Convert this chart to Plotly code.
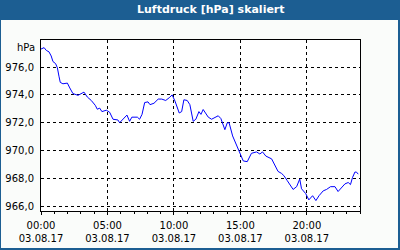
import plotly.graph_objects as go

# ---- data ----
times = ["00:00","00:14","00:24","00:36","00:46","00:54","01:06","01:14","01:21","01:27",
         "01:39","01:59","02:10","02:24","02:47","02:59","03:14","03:29","03:47","04:05",
         "04:14","04:25","04:35","04:55","05:10","05:25","05:47","05:55","06:10","06:28",
         "06:40","06:50","07:15","07:25","07:36","07:48","08:03","08:12","08:30","08:49",
         "09:05","09:23","09:39","09:52","10:05","10:24","10:35","10:45","11:00","11:12",
         "11:27","11:39","11:53","12:02","12:12","12:35","12:50","13:05","13:20","13:32",
         "13:50","14:01","14:09","14:25","14:43","14:58","15:13","15:31","15:50","16:13",
         "16:28","16:40","16:55","17:21","17:35","17:50","18:06","18:16","18:31","18:46",
         "18:58","19:14","19:28","19:36","19:46","19:55","20:09","20:26","20:41","20:55",
         "21:14","21:29","21:47","22:07","22:21","22:37","22:52","23:07","23:17","23:26",
         "23:37","23:44","23:52"]
pressure = [977.3,977.4,977.2,977.1,976.8,976.4,976.25,975.95,975.35,974.9,
            974.8,974.85,974.5,974.1,973.97,974.05,974.2,973.85,973.6,973.25,
            972.97,973.05,972.8,972.9,972.75,972.25,972.2,972.0,972.25,972.55,
            972.1,972.4,972.4,972.25,972.6,973.45,973.5,973.3,973.4,973.7,
            973.7,973.6,973.8,974.0,973.55,972.7,972.8,973.65,973.6,973.3,
            972.1,972.25,972.8,972.6,972.95,972.4,972.25,972.35,972.5,972.3,
            971.5,972.0,972.0,971.05,970.4,969.85,969.25,969.2,969.8,969.9,
            969.75,969.9,969.6,969.4,969.0,968.5,968.35,968.2,967.85,967.5,
            967.2,967.4,967.95,967.25,967.1,966.9,966.45,966.75,966.4,966.75,
            967.1,967.2,967.4,967.4,967.05,967.35,967.6,967.7,967.55,968.05,
            968.45,968.45,968.3]
date = "2017-08-03"
title_text = "Luftdruck [hPa] skaliert"
unit_text = "hPa"

x = [f"{date} {t}" for t in times]

W, H = 400, 250
L, R, T, B = 41, 40, 40, 39
pw, ph = W - L - R, H - T - B

def px(xp):
    return (xp - L) / pw

def py(yp):
    return (H - B - yp) / ph

blue = "#1c5e92"
bg = "#fafcfa"
font = "DejaVu Sans"

fig = go.Figure(go.Scatter(x=x, y=pressure, mode="lines",
                           line=dict(color="#0000ff", width=1)))

shapes = [
    dict(type="rect", xref="paper", yref="paper", x0=px(0), x1=px(W), y0=py(20), y1=py(0),
         fillcolor=blue, line=dict(width=0), layer="above"),
    dict(type="rect", xref="paper", yref="paper", x0=px(0), x1=px(1), y0=py(H), y1=py(0),
         fillcolor=blue, line=dict(width=0), layer="above"),
    dict(type="rect", xref="paper", yref="paper", x0=px(W - 2), x1=px(W), y0=py(H), y1=py(0),
         fillcolor=blue, line=dict(width=0), layer="above"),
    dict(type="rect", xref="paper", yref="paper", x0=px(0), x1=px(W), y0=py(H), y1=py(H - 2),
         fillcolor=blue, line=dict(width=0), layer="above"),
]

fig.update_layout(
    width=W, height=H, margin=dict(l=L, r=R, t=T, b=B, pad=0, autoexpand=False),
    paper_bgcolor=bg, plot_bgcolor="#ffffff",
    showlegend=False, separators=",.",
    font=dict(family=font, size=10, color="#000000"),
    shapes=shapes,
    annotations=[
        dict(text=f"<b>{title_text}</b>", xref="paper", yref="paper",
             x=px(211), y=py(10), xanchor="center", yanchor="middle",
             showarrow=False, font=dict(family=font, size=11, color="#ffffff")),
        dict(text=unit_text, xref="paper", yref="paper",
             x=px(37), y=py(47), xanchor="right", yanchor="middle",
             showarrow=False, font=dict(family=font, size=10, color="#000000")),
    ],
)

fig.update_xaxes(
    type="date", range=[f"{date} 00:00", "2017-08-04 00:00"],
    tick0=f"{date} 00:00", dtick=5 * 3600 * 1000,
    tickformat="%H:%M<br>%d.%m.%y",
    showgrid=True, gridcolor="#000000", gridwidth=1, griddash="3px,3px",
    showline=True, linecolor="#000000", linewidth=1, mirror=True,
    ticks="outside", ticklen=3, tickcolor="#000000", ticklabelstandoff=2,
    minor=dict(dtick=3600 * 1000, ticks="outside", ticklen=2, tickcolor="#000000", showgrid=False),
    zeroline=False, fixedrange=True, automargin=False,
)
fig.update_yaxes(
    range=[965.65, 977.95], tick0=966, dtick=2, tickformat=".1f",
    showgrid=True, gridcolor="#000000", gridwidth=1, griddash="3px,3px",
    showline=True, linecolor="#000000", linewidth=1, mirror=True,
    ticks="", ticklabelstandoff=4,
    zeroline=False, fixedrange=True, automargin=False,
)

fig.write_html("out.html", config=dict(displayModeBar=False))
